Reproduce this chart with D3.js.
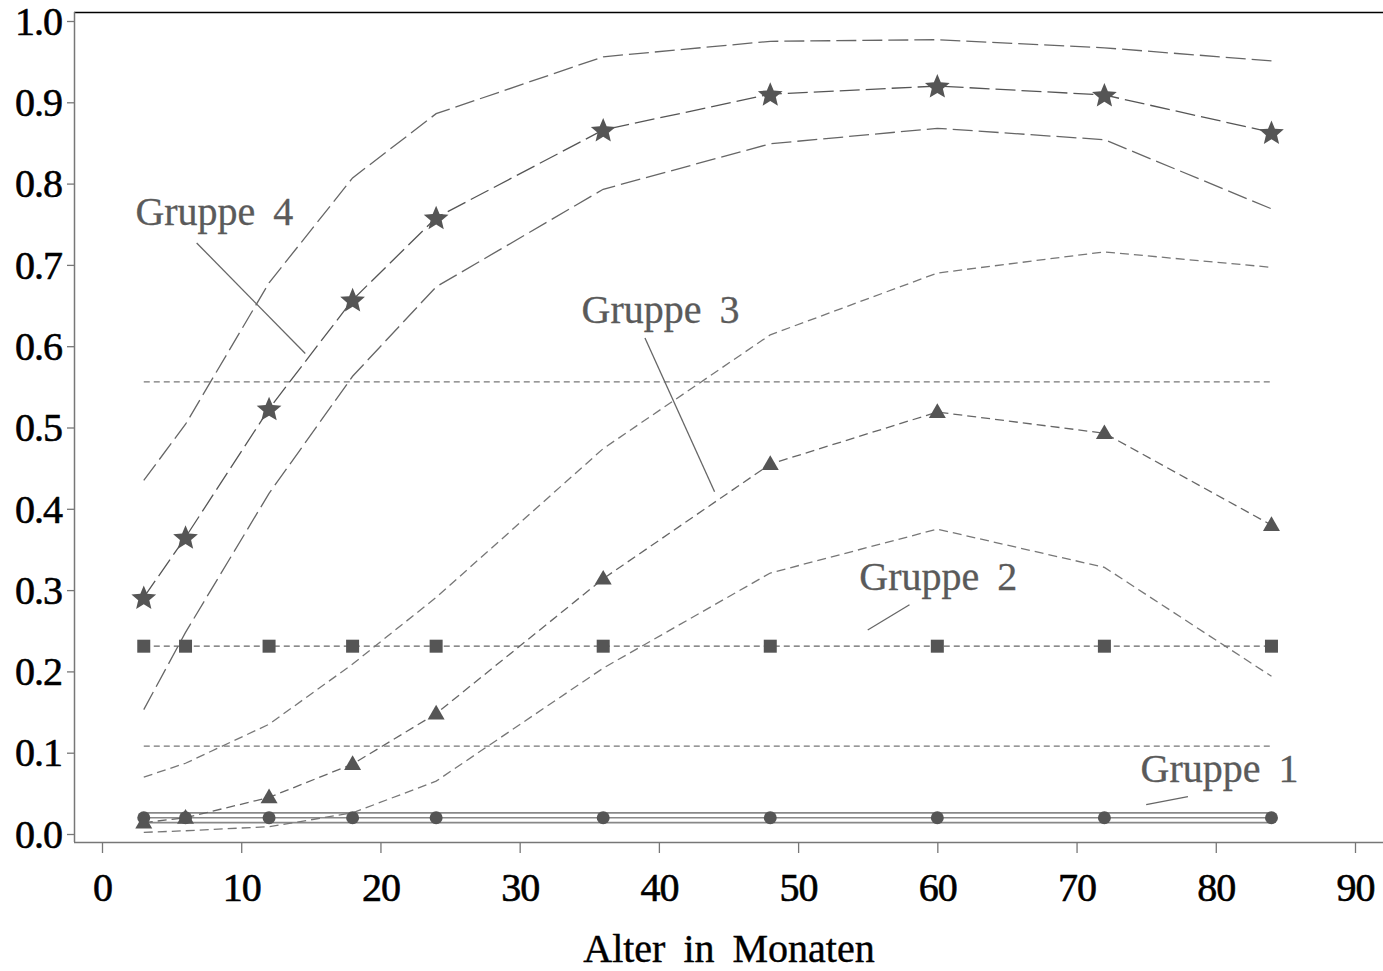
<!DOCTYPE html>
<html>
<head>
<meta charset="utf-8">
<script src="https://cdn.jsdelivr.net/npm/d3@7"></script>
<style>
  body { margin: 0; background: #fff; }
  text { font-family: "Liberation Serif", serif; }
</style>
</head>
<body>
<div id="chart"></div>
<script>
// ages (months)
const ages = [3, 6, 12, 18, 24, 36, 48, 60, 72, 84];

const g4 = [0.291, 0.365, 0.523, 0.657, 0.758, 0.866, 0.910, 0.920, 0.909, 0.863];
const g4Hi = [0.435, 0.504, 0.678, 0.807, 0.886, 0.956, 0.975, 0.977, 0.967, 0.951];
const g4Lo = [0.153, 0.248, 0.419, 0.563, 0.673, 0.793, 0.849, 0.868, 0.854, 0.769];

const g3 = [0.014, 0.020, 0.045, 0.086, 0.148, 0.314, 0.455, 0.519, 0.493, 0.380];
const g3Hi = [0.070, 0.087, 0.135, 0.209, 0.291, 0.474, 0.614, 0.690, 0.716, 0.697];
const g3Lo = [0.002, 0.004, 0.009, 0.026, 0.065, 0.204, 0.321, 0.375, 0.328, 0.194];

const g2 = [0.231, 0.231, 0.231, 0.231, 0.231, 0.231, 0.231, 0.231, 0.231, 0.231];
const g2Hi = [0.556, 0.556, 0.556, 0.556, 0.556, 0.556, 0.556, 0.556, 0.556, 0.556];
const g2Lo = [0.108, 0.108, 0.108, 0.108, 0.108, 0.108, 0.108, 0.108, 0.108, 0.108];

const g1 = [0.020, 0.020, 0.020, 0.020, 0.020, 0.020, 0.020, 0.020, 0.020, 0.020];
const g1Hi = [0.026, 0.026, 0.026, 0.026, 0.026, 0.026, 0.026, 0.026, 0.026, 0.026];
const g1Lo = [0.014, 0.014, 0.014, 0.014, 0.014, 0.014, 0.014, 0.014, 0.014, 0.014];

const xTicks = [0, 10, 20, 30, 40, 50, 60, 70, 80, 90];
const yTicks = [0, 0.1, 0.2, 0.3, 0.4, 0.5, 0.6, 0.7, 0.8, 0.9, 1.0];

// label text, baseline start (data units), leader line from/to (data units)
const labels = [
  {text: 'Gruppe 4', x: 2.4, y: 0.749, from: [6.8, 0.727], to: [14.6, 0.591]},
  {text: 'Gruppe 3', x: 34.45, y: 0.628, from: [39.0, 0.610], to: [44.0, 0.421]},
  {text: 'Gruppe 2', x: 54.4, y: 0.300, from: [55.0, 0.251], to: [58.0, 0.282]},
  {text: 'Gruppe 1', x: 74.6, y: 0.064, from: [75.0, 0.036], to: [78.0, 0.046]}
];

const width = 1383;
const height = 971;
const plotLeft = 74, plotRight = 1383, plotTop = 12, plotBottom = 842;

const svg = d3.select('#chart').append('svg')
  .attr('width', width)
  .attr('height', height);

const x = d3.scaleLinear().domain([0, 90]).range([102, 1355]);
const y = d3.scaleLinear().domain([0, 1]).range([834, 21]);

const grey = '#555';

// frame: top black border
svg.append('line')
  .attr('x1', plotLeft).attr('x2', plotRight)
  .attr('y1', plotTop + 0.5).attr('y2', plotTop + 0.5)
  .attr('stroke', '#000').attr('stroke-width', 1.3);

// y axis
const yAxis = svg.append('g')
  .attr('transform', `translate(${plotLeft},0)`)
  .call(d3.axisLeft(y).tickValues(yTicks).tickFormat(d3.format('.1f')).tickSize(7).tickPadding(5));
yAxis.select('.domain').attr('d', `M0.5,${plotTop}V${plotBottom}`).attr('stroke', '#777').attr('stroke-width', 1.5);
yAxis.selectAll('.tick line').attr('stroke', '#777').attr('stroke-width', 1.3);
yAxis.selectAll('.tick text')
  .attr('fill', '#000').attr('stroke', '#000').attr('stroke-width', 0.6)
  .attr('font-size', 40).attr('font-family', '"Liberation Serif", serif')
  .attr('letter-spacing', -1).attr('dy', '0.33em');

// x axis
const xAxis = svg.append('g')
  .attr('transform', `translate(0,${plotBottom})`)
  .call(d3.axisBottom(x).tickValues(xTicks).tickSize(11).tickPadding(20));
xAxis.select('.domain').attr('d', `M${plotLeft},0.5H${plotRight}`).attr('stroke', '#777').attr('stroke-width', 1.5);
xAxis.selectAll('.tick line').attr('stroke', '#777').attr('stroke-width', 1.3);
xAxis.selectAll('.tick text')
  .attr('fill', '#000').attr('stroke', '#000').attr('stroke-width', 0.6)
  .attr('font-size', 40).attr('font-family', '"Liberation Serif", serif')
  .attr('letter-spacing', -1);

svg.append('text')
  .attr('x', 729).attr('y', 962)
  .attr('text-anchor', 'middle')
  .attr('font-size', 40)
  .attr('word-spacing', 8)
  .attr('fill', '#000')
  .attr('stroke', '#000').attr('stroke-width', 0.4)
  .text('Alter in Monaten');

const line = d3.line()
  .x((d, i) => x(ages[i]))
  .y(d => y(d));

function drawLine(data, dash, col, w) {
  svg.append('path')
    .datum(data)
    .attr('d', line)
    .attr('fill', 'none')
    .attr('stroke', col)
    .attr('stroke-width', w)
    .attr('stroke-dasharray', dash);
}

// Gruppe 1: solid
drawLine(g1Hi, null, '#888', 1.6);
drawLine(g1, null, '#888', 1.6);
drawLine(g1Lo, null, '#888', 1.6);

// Gruppe 2: short dashes
drawLine(g2Hi, '6,4', '#777', 1.3);
drawLine(g2, '6,4', '#666', 1.3);
drawLine(g2Lo, '6,4', '#777', 1.3);

// Gruppe 3: medium dashes
drawLine(g3Hi, '9,5', '#777', 1.3);
drawLine(g3, '9,5', '#666', 1.3);
drawLine(g3Lo, '9,5', '#777', 1.3);

// Gruppe 4: long dashes
drawLine(g4Hi, '20,6', '#666', 1.3);
drawLine(g4, '20,6', '#555', 1.3);
drawLine(g4Lo, '20,6', '#666', 1.3);

// markers
svg.append('g').selectAll('circle')
  .data(g1).join('circle')
  .attr('cx', (d, i) => x(ages[i])).attr('cy', d => y(d))
  .attr('r', 6.5).attr('fill', grey);

svg.append('g').selectAll('rect')
  .data(g2).join('rect')
  .attr('x', (d, i) => x(ages[i]) - 6.5).attr('y', d => y(d) - 6.5)
  .attr('width', 13).attr('height', 13).attr('fill', grey);

const tri = d3.symbol().type(d3.symbolTriangle).size(125);
svg.append('g').selectAll('path')
  .data(g3).join('path')
  .attr('transform', (d, i) => `translate(${x(ages[i])},${y(d) + 1})`)
  .attr('d', tri).attr('fill', grey);

// fuller five-point star (outer radius from size, inner ratio 0.45)
const fatStar = {
  draw(ctx, size) {
    const r = Math.sqrt(size) / 2;
    const ri = r * 0.45;
    for (let k = 0; k < 10; k++) {
      const rad = k % 2 ? ri : r;
      const a = -Math.PI / 2 + k * Math.PI / 5;
      const px = rad * Math.cos(a), py = rad * Math.sin(a);
      if (k === 0) ctx.moveTo(px, py); else ctx.lineTo(px, py);
    }
    ctx.closePath();
  }
};
const star = d3.symbol().type(fatStar).size(26 * 26);
svg.append('g').selectAll('path')
  .data(g4).join('path')
  .attr('transform', (d, i) => `translate(${x(ages[i])},${y(d) + 1})`)
  .attr('d', star).attr('fill', grey);

// labels and leader lines
labels.forEach(l => {
  svg.append('line')
    .attr('x1', x(l.from[0])).attr('y1', y(l.from[1]))
    .attr('x2', x(l.to[0])).attr('y2', y(l.to[1]))
    .attr('stroke', '#666').attr('stroke-width', 1.3);
  svg.append('text')
    .attr('x', x(l.x)).attr('y', y(l.y))
    .attr('font-size', 40)
    .attr('word-spacing', 8)
    .attr('fill', '#5a5a5a')
    .attr('stroke', '#5a5a5a').attr('stroke-width', 0.3)
    .text(l.text);
});
</script>
</body>
</html>
